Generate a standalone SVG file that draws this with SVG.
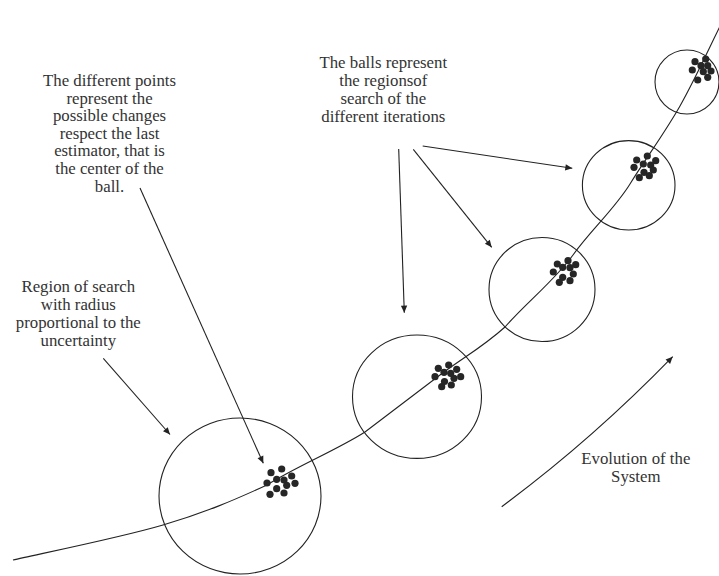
<svg xmlns="http://www.w3.org/2000/svg" width="719" height="576" viewBox="0 0 719 576">
<defs>
<style>
.ln{fill:none;stroke:#222;stroke-width:1.1}
.ball{fill:none;stroke:#222;stroke-width:1.1}
.dot circle{fill:#262626;r:3.6px}
.t{font-family:"Liberation Serif","Times New Roman",serif;font-size:16.8px;fill:#333;text-anchor:middle}
</style>
<marker id="ah" viewBox="0 0 10 10" refX="10" refY="5" markerWidth="9" markerHeight="7" markerUnits="userSpaceOnUse" orient="auto">
<path d="M0,0.5 L10,5 L0,9.5 Z" fill="#222"/>
</marker>
</defs>
<rect width="719" height="576" fill="#fff"/>

<g id="trajectory">
<path class="ln" d="M13,560 C38,554.2 120.7,537.5 163,525 C205.3,512.5 233.3,500.5 267,485 C295.8,466.7 336.2,450.3 365,432 C388.3,414.5 416.7,392.5 440,375 C463.3,357.5 482.8,347 505,327 C525.8,303.2 555.2,279.8 573,255 C590.8,230.2 614.7,208.8 630,184 C645.3,159.2 664.7,133 680,106 C695.3,79 715,36 722,22"/>
</g>

<g id="ball1">
<ellipse class="ball" cx="240" cy="496" rx="81" ry="78"/>
<g class="dot">
<circle cx="271" cy="472.7" r="3.6"/><circle cx="281.7" cy="469" r="3.6"/><circle cx="276.7" cy="479.3" r="3.6"/><circle cx="284" cy="480" r="3.6"/><circle cx="291.7" cy="476" r="3.6"/><circle cx="267" cy="483" r="3.6"/><circle cx="286.7" cy="485.3" r="3.6"/><circle cx="295" cy="483.3" r="3.6"/><circle cx="276.7" cy="488.7" r="3.6"/><circle cx="270" cy="494.3" r="3.6"/><circle cx="284" cy="493" r="3.6"/>
</g>
</g>

<g id="ball2">
<ellipse class="ball" cx="417" cy="396.7" rx="64.5" ry="61.7"/>
<g class="dot">
<circle cx="438.3" cy="368.3" r="3.6"/><circle cx="448.7" cy="365" r="3.6"/><circle cx="456.7" cy="369.3" r="3.6"/><circle cx="435" cy="376.7" r="3.6"/><circle cx="444" cy="372.3" r="3.6"/><circle cx="450.7" cy="373.3" r="3.6"/><circle cx="454" cy="378.3" r="3.6"/><circle cx="460.7" cy="376.7" r="3.6"/><circle cx="441.7" cy="386.7" r="3.6"/><circle cx="451.3" cy="385" r="3.6"/><circle cx="444.5" cy="381.5" r="3.6"/>
</g>
</g>

<g id="ball3">
<ellipse class="ball" cx="542" cy="289.5" rx="53" ry="52"/>
<g class="dot">
<circle cx="557.3" cy="264" r="3.6"/><circle cx="568" cy="260.7" r="3.6"/><circle cx="575.7" cy="264.7" r="3.6"/><circle cx="553.3" cy="272" r="3.6"/><circle cx="562.7" cy="267.3" r="3.6"/><circle cx="570" cy="267.7" r="3.6"/><circle cx="573.3" cy="274" r="3.6"/><circle cx="562.7" cy="277.3" r="3.6"/><circle cx="570" cy="280.7" r="3.6"/><circle cx="559.3" cy="282.3" r="3.6"/>
</g>
</g>

<g id="ball4">
<ellipse class="ball" cx="628.7" cy="185.3" rx="46.3" ry="44.7"/>
<g class="dot">
<circle cx="636.7" cy="160" r="3.6"/><circle cx="647.3" cy="156" r="3.6"/><circle cx="655.7" cy="160.7" r="3.6"/><circle cx="634" cy="167.3" r="3.6"/><circle cx="643.3" cy="164" r="3.6"/><circle cx="650.7" cy="165" r="3.6"/><circle cx="653.3" cy="170" r="3.6"/><circle cx="644" cy="172.3" r="3.6"/><circle cx="649.3" cy="175.7" r="3.6"/><circle cx="639.3" cy="177.7" r="3.6"/>
</g>
</g>

<g id="ball5">
<ellipse class="ball" cx="687" cy="82" rx="32" ry="32"/>
<g class="dot">
<circle cx="695" cy="61.7" r="3.6"/><circle cx="705.7" cy="59" r="3.6"/><circle cx="692.3" cy="70" r="3.6"/><circle cx="701" cy="65.7" r="3.6"/><circle cx="707.7" cy="65.7" r="3.6"/><circle cx="711" cy="71" r="3.6"/><circle cx="703.3" cy="71.7" r="3.6"/><circle cx="697.7" cy="80" r="3.6"/><circle cx="707.7" cy="77.3" r="3.6"/>
</g>
</g>

<g id="label-points">
<text class="t"><tspan x="109.5" y="86">The different points</tspan><tspan x="109.5" y="103.6">represent the</tspan><tspan x="109.5" y="121.2">possible changes</tspan><tspan x="109.5" y="138.8">respect the last</tspan><tspan x="109.5" y="156.4">estimator, that is</tspan><tspan x="109.5" y="174">the center of the</tspan><tspan x="109.5" y="191.6">ball.</tspan></text>
</g>

<g id="label-balls">
<text class="t"><tspan x="383.3" y="68.3">The balls represent</tspan><tspan x="383.3" y="86">the regionsof</tspan><tspan x="383.3" y="103.8">search of the</tspan><tspan x="383.3" y="121.6">different iterations</tspan></text>
</g>

<g id="label-region">
<text class="t"><tspan x="78.3" y="292.3">Region of search</tspan><tspan x="78.3" y="310">with radius</tspan><tspan x="78.3" y="328">proportional to the</tspan><tspan x="78.3" y="346">uncertainty</tspan></text>
</g>

<g id="label-evolution">
<text class="t"><tspan x="635.8" y="464">Evolution of the</tspan><tspan x="635.8" y="481.7">System</tspan></text>
</g>

<g id="connectors">
<line class="ln" x1="140" y1="188" x2="263.3" y2="463.3" marker-end="url(#ah)"/>
<line class="ln" x1="103.3" y1="358.3" x2="170" y2="434.5" marker-end="url(#ah)"/>
<line class="ln" x1="398.7" y1="149" x2="404.3" y2="312.7" marker-end="url(#ah)"/>
<line class="ln" x1="413.3" y1="149.3" x2="491.7" y2="247.3" marker-end="url(#ah)"/>
<line class="ln" x1="422.7" y1="146" x2="572.3" y2="168.3" marker-end="url(#ah)"/>
<path class="ln" d="M501.7,506.7 Q591.7,440.1 672.7,356.7" marker-end="url(#ah)"/>
</g>
</svg>
